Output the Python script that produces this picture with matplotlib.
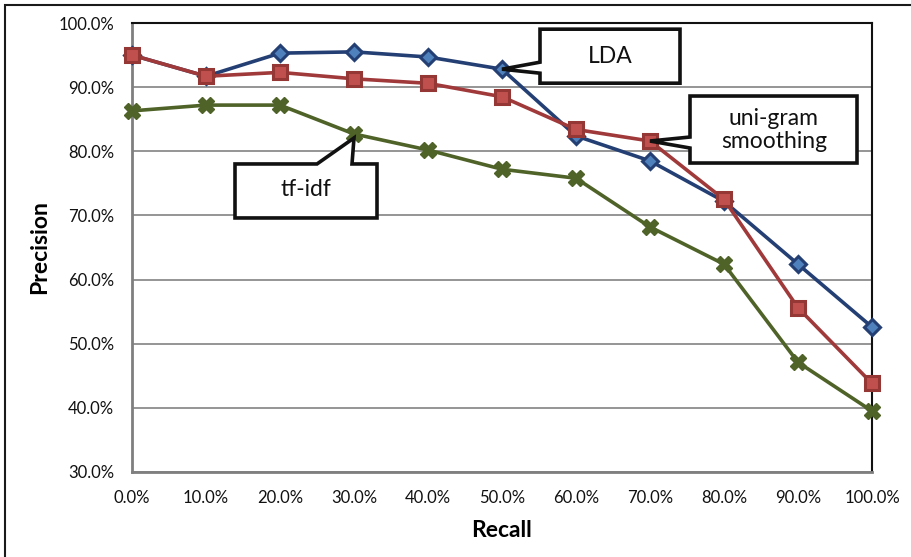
import matplotlib.pyplot as plt
import matplotlib.transforms as mtransforms
from matplotlib.patches import Polygon, Rectangle
from matplotlib.ticker import FuncFormatter

plt.rcParams['font.family'] = ['Lato', 'DejaVu Sans']

recall = [0, 10, 20, 30, 40, 50, 60, 70, 80, 90, 100]
lda = [95.0, 91.7, 95.3, 95.5, 94.7, 92.8, 82.4, 78.5, 72.2, 62.4, 52.6]
unigram = [95.0, 91.7, 92.3, 91.3, 90.6, 88.5, 83.4, 81.6, 72.5, 55.6, 43.8]
tfidf = [86.3, 87.2, 87.2, 82.7, 80.2, 77.2, 75.8, 68.2, 62.4, 47.1, 39.5]

W, H = 912, 557
fig = plt.figure(figsize=(W / 100, H / 100), dpi=100)
ax = fig.add_axes([132 / W, (H - 472) / H, 740 / W, 449 / H])

# outer chart frame (runs off the right/bottom edge like the source)
fig.patches.append(Rectangle((5 / W, -0.05), 1.1, 1 - 5 / H + 0.05,
                             transform=fig.transFigure, fill=False,
                             ec='#1a1a1a', lw=1.5))

ax.plot(recall, tfidf, color='#4F6228', lw=2.6, marker='X', ms=11,
        mfc='#4F6228', mec='#4F6228', zorder=3, clip_on=False)
ax.plot(recall, lda, color='#243F73', lw=2.6, marker='D', ms=8,
        mfc='#4F81BD', mec='#243F73', mew=2.2, zorder=4, clip_on=False)
ax.plot(recall, unigram, color='#A0393A', lw=2.6, marker='s', ms=9.5,
        mfc='#C0504D', mec='#953735', mew=2.2, zorder=5, clip_on=False)

ax.set_xlim(0, 100)
ax.set_ylim(30, 100)
ax.set_xticks(range(0, 101, 10))
ax.set_yticks(range(30, 101, 10))
ax.xaxis.set_major_formatter(FuncFormatter(lambda v, p: f'{v:.1f}%'))
ax.yaxis.set_major_formatter(FuncFormatter(lambda v, p: f'{v:.1f}%'))
ax.tick_params(length=0, labelsize=12, colors='#111111')
ax.tick_params(axis='y', pad=13)
ax.tick_params(axis='x', pad=13)
ax.yaxis.grid(True, color='#8c8c8c', lw=1.3)
ax.set_axisbelow(True)
for s in ['left', 'bottom']:
    ax.spines[s].set_color('#7f7f7f')
    ax.spines[s].set_linewidth(2)
for s in ['top', 'right']:
    ax.spines[s].set_color('#111111')
    ax.spines[s].set_linewidth(1.5)

ax.set_xlabel('Recall', fontsize=16.5, fontweight='bold', labelpad=10)
ax.set_ylabel('Precision', fontsize=16.5, fontweight='bold', labelpad=6)


def callout(x, y, verts, text, tx, ty):
    # verts: pixel offsets from the data point (y up)
    trans = fig.dpi_scale_trans + mtransforms.ScaledTranslation(x, y, ax.transData)
    pts = [(vx / 100, vy / 100) for vx, vy in verts]
    ax.add_patch(Polygon(pts, closed=True, transform=trans, fc='white',
                         ec='#111111', lw=2.6, joinstyle='miter',
                         clip_on=False, zorder=6))
    ax.text(tx / 100, ty / 100, text, transform=trans, ha='center',
            va='center', fontsize=16.5, color='#111111', zorder=7,
            linespacing=1.1)


# LDA box, wedge on left side
callout(recall[5], lda[5],
        [(38, 7), (38, 40), (178, 40), (178, -14), (38, -14), (38, -4), (0, 0)],
        'LDA', 108, 13)
# uni-gram box, wedge on left side
callout(recall[7], unigram[7],
        [(40, 4), (40, 45), (207, 45), (207, -22), (40, -22), (40, -7), (0, 0)],
        'uni-gram\nsmoothing', 124, 11)
# tf-idf box, wedge on top
callout(recall[3], tfidf[3],
        [(-2, -30), (23, -30), (23, -84), (-119, -84), (-119, -30), (-37, -30), (0, -4)],
        'tf-idf', -48, -56)

fig.savefig('out.png', dpi=100)
